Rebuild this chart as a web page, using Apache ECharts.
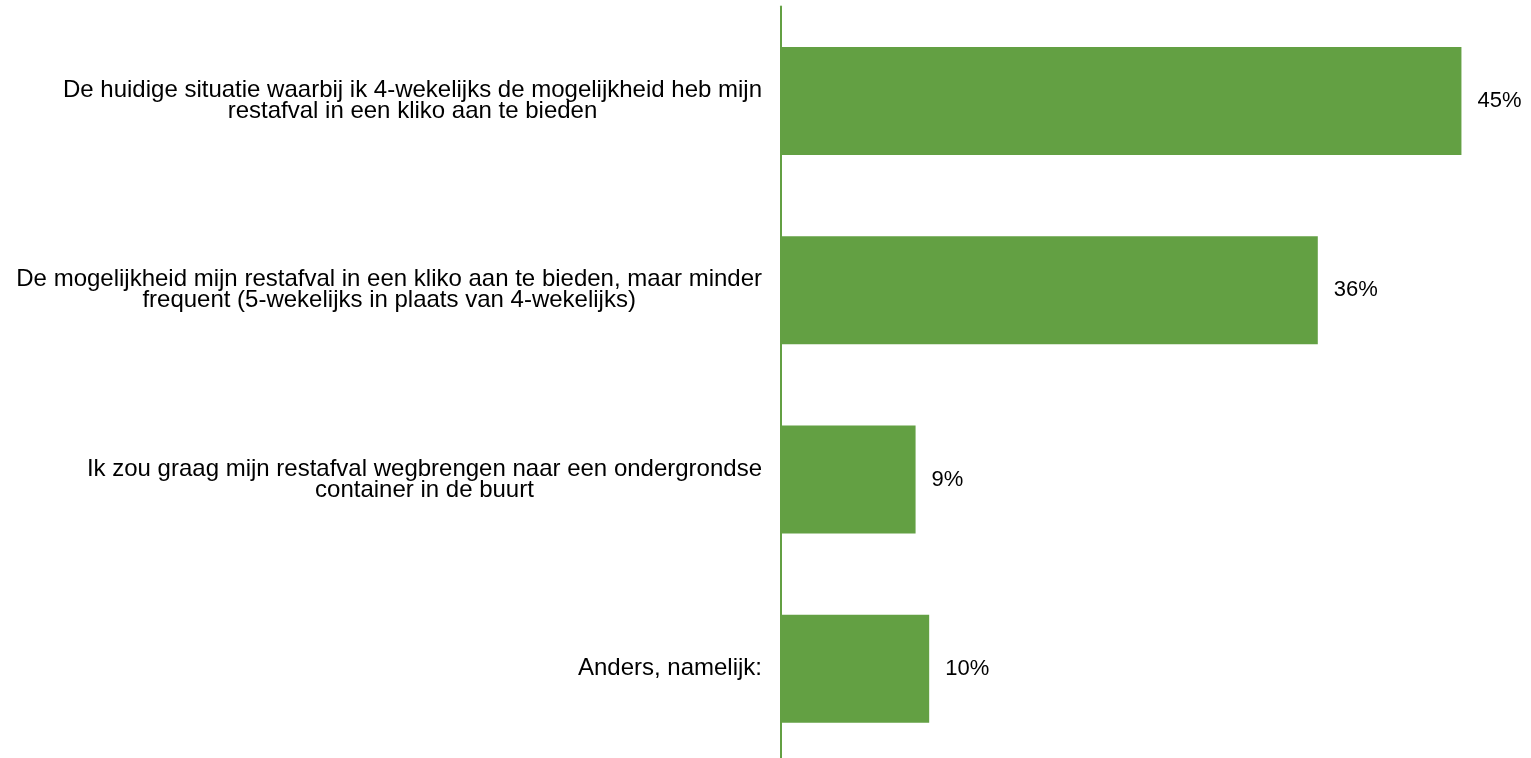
<!DOCTYPE html>
<html>
<head>
<meta charset="utf-8">
<script src="https://cdn.jsdelivr.net/npm/echarts@6/dist/echarts.min.js"></script>
<style>
  html, body { margin: 0; padding: 0; background: #fff; }
  #chart { width: 1531px; height: 758px; }
</style>
</head>
<body>
<div id="chart"></div>
<script>
// categories (top to bottom), line breaks as in the original
var categories = [
  'De huidige situatie waarbij ik 4-wekelijks de mogelijkheid heb mijn\nrestafval in een kliko aan te bieden',
  'De mogelijkheid mijn restafval in een kliko aan te bieden, maar minder\nfrequent (5-wekelijks in plaats van 4-wekelijks)',
  'Ik zou graag mijn restafval wegbrengen naar een ondergrondse\ncontainer in de buurt',
  'Anders, namelijk:'
];
// percentages (labels are rounded)
var values = [45.0, 35.5, 8.9, 9.8];

var myChart = echarts.init(document.getElementById('chart'));

myChart.setOption({
  animation: false,
  grid: { left: 781, right: 0, top: 6.4, height: 757, outerBoundsMode: 'none' },
  xAxis: {
    type: 'value',
    min: 0,
    max: 49.6,
    show: false
  },
  yAxis: {
    type: 'category',
    inverse: true,
    data: categories,
    axisLine: { show: true, lineStyle: { color: '#63a043', width: 2 } },
    axisTick: { show: false },
    axisLabel: {
      margin: 19,
      align: 'right',
      formatter: function (v) {
        // centre every line inside the right-aligned block
        return v.split('\n').map(function (l) { return '{c|' + l + '}'; }).join('\n');
      },
      rich: {
        c: {
          align: 'center',
          fontFamily: 'Liberation Sans, Arial, sans-serif',
          fontSize: 24,
          lineHeight: 21,
          color: '#000'
        }
      }
    }
  },
  series: [{
    type: 'bar',
    data: values,
    barWidth: 108,
    itemStyle: { color: '#63a043' },
    label: {
      show: true,
      position: 'right',
      distance: 16,
      fontFamily: 'Liberation Sans, Arial, sans-serif',
      fontSize: 22,
      color: '#000',
      formatter: function (p) { return Math.round(p.value) + '%'; }
    }
  }]
});
</script>
</body>
</html>
